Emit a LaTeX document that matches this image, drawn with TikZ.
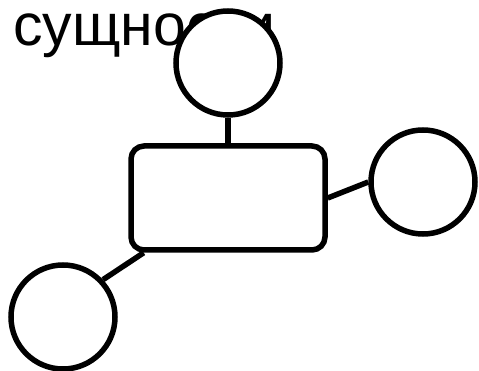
\documentclass[tikz,border=0pt]{standalone}
\usepackage{fontspec}
\setmainfont{Liberation Sans}
\begin{document}
\begin{tikzpicture}[x=1pt,y=-1pt,
  entity/.style={draw, line width=5.5pt, rounded corners=13pt, minimum width=194pt, minimum height=104pt, inner sep=0pt},
  attr/.style={draw, fill=white, circle, line width=5.5pt, minimum size=104pt, inner sep=0pt},
  link/.style={line width=5.5pt}]
\useasboundingbox (0,0) rectangle (479,371);
\node[anchor=base west, inner sep=0pt, font=\fontsize{59}{64}\selectfont] (title) at (13,46) {сущности};
\node[entity] (ent) at (228,198) {};
\node[attr] (atop) at (228,63) {};
\node[attr] (aright) at (423,182) {};
\node[attr] (aleft) at (63,317) {};
\draw[link] (atop.south) -- (ent.north);
\draw[link] (ent.east) -- (aright.west);
\draw[link] (ent.213) -- (aleft.43);
\end{tikzpicture}
\end{document}
